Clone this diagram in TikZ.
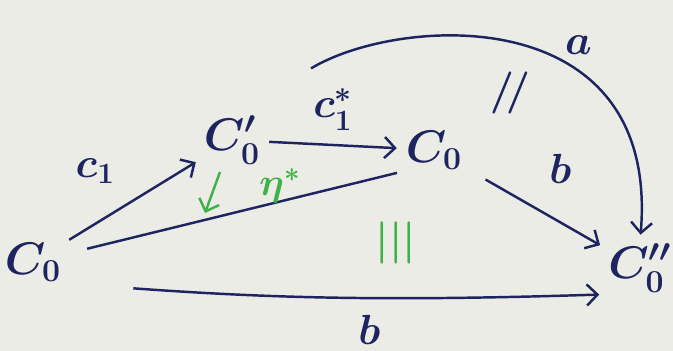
\documentclass[tikz,border=0pt]{standalone}
\usepackage{fix-cm}
\usetikzlibrary{arrows.meta}
\definecolor{ink}{RGB}{30,36,96}
\definecolor{chalkgreen}{RGB}{62,178,72}
\definecolor{paper}{RGB}{236,236,231}
\begin{document}
\begin{tikzpicture}[x=0.02cm,y=-0.02cm,
    obj/.style={font=\fontsize{26}{30}\selectfont\boldmath, text=ink, inner sep=1pt},
    lbl/.style={font=\fontsize{24}{28}\selectfont\boldmath, text=ink},
    arr/.style={->, ink, line width=1.4pt, shorten <=4pt, shorten >=4pt},
    >={Straight Barb[length=6pt,width=12pt]}]
    \useasboundingbox (0,0) rectangle (673,351);
    \fill[paper] (0,0) rectangle (673,351);
    % the four objects
    \node[obj] (c0) at (33,262) {$C_0$};
    \node[obj] (c0p) at (232,140) {$C_0'$};
    \node[obj] (c0m) at (434,150) {$C_0$};
    \node[obj] (c0pp) at (640,268) {$C_0''$};
    \coordinate (astart) at (305,72);
    % arrows
    \draw[arr] (c0) -- (c0p) node[lbl, midway, above left, xshift=-6pt, yshift=6pt] {$c_1$};
    \draw[arr] (c0p) -- (c0m) node[lbl, midway, above, yshift=4pt] {$c_1^*$};
    \draw[ink, line width=1.4pt, shorten <=14pt, shorten >=4pt] (c0) -- (c0m.south west);
    \draw[arr, shorten <=14pt] (c0m) -- (c0pp) node[lbl, midway, above right, xshift=4pt, yshift=10pt] {$b$};
    \draw[arr] (astart) .. controls (400,15) and (660,0) .. (c0pp.north)
        node[lbl, pos=0.6, above right] {$a$};
    \draw[arr, shorten <=40pt] (c0.south east) to[bend right=3]
        node[lbl, pos=0.57, below, yshift=-6pt] {$b$} (c0pp.south west);
    % 2-cells
    \node[lbl] (eq1) at (510,93) {$/\!/$};
    \node[lbl, text=chalkgreen] (eq2) at (396,243) {$|||$};
    \coordinate (etatop) at (220,172);
    \coordinate (etatip) at (205,213);
    \draw[->, chalkgreen, line width=1.4pt] (etatop) -- (etatip);
    \node[lbl, font=\fontsize{22}{26}\selectfont\boldmath, text=chalkgreen, inner sep=0pt] (eta) at (280,186) {$\eta^*$};
\end{tikzpicture}
\end{document}
